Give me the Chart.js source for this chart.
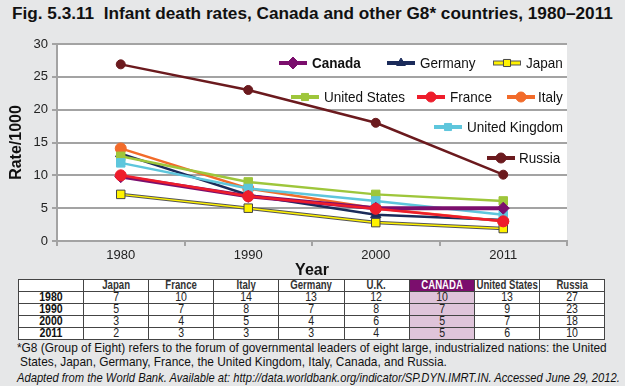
<!DOCTYPE html>
<html>
<head>
<meta charset="utf-8">
<script src="https://cdn.jsdelivr.net/npm/chart.js@4.4.1/dist/chart.umd.min.js"></script>
<style>
  html, body { margin:0; padding:0; }
  body { width:625px; height:386px; background:#e6e7e8; position:relative; overflow:hidden; font-family:"Liberation Sans", Arial, sans-serif; color:#111; }
  #title { position:absolute; left:12px; top:3px; font-weight:bold; font-size:17.2px; white-space:nowrap; }
  #wrap { position:absolute; left:0; top:0; width:625px; height:282px; }
  table { position:absolute; left:18px; top:279px; width:587px; border-collapse:collapse; table-layout:fixed; background:#fff; font-size:12px; }
  td { border:1px solid #444; height:11px; padding:0; text-align:center; line-height:11px; white-space:nowrap; overflow:hidden; color:#222; }
  td span { display:block; width:200%; margin-left:-50%; text-align:center; transform:scaleX(0.88); }
  tr.head td { color:#333; font-weight:bold; }
  tr.head td span { transform:scaleX(0.8); }
  td.rl { font-weight:bold; color:#111; }
  td.ca { background:#dfc4da; }
  tr.head td.cah { background:#7b0e6d; color:#fff; }
  .note { position:absolute; left:17px; font-size:13.5px; white-space:nowrap; transform:scaleX(0.88); transform-origin:left top; color:#111; }
</style>
</head>
<body>
<div id="title">Fig. 5.3.11&nbsp; Infant death rates, Canada and other G8* countries, 1980–2011</div>
<div id="wrap"><canvas id="c" width="625" height="282"></canvas></div>
<table id="tbl"></table>
<div class="note" style="top:340px;">*G8 (Group of Eight) refers to the forum of governmental leaders of eight large, industrialized nations: the United</div>
<div class="note" style="top:354px; left:20px;">States, Japan, Germany, France, the United Kingdom, Italy, Canada, and Russia.</div>
<div class="note" style="top:370px; font-size:13px; font-style:italic; transform:scaleX(0.86);">Adapted from the World Bank. Available at: http://data.worldbank.org/indicator/SP.DYN.IMRT.IN. Accessed June 29, 2012.</div>
<script>
// chart values (rate per 1000)
const years = ['1980', '1990', '2000', '2011'];
const canada = [9.8, 6.8, 5.0, 5.0];
const germany = [13.3, 7.0, 4.0, 3.2];
const japan = [7.1, 5.0, 2.8, 1.9];
const usa = [12.9, 9.0, 7.1, 6.1];
const france = [10.0, 6.8, 4.9, 3.0];
const italy = [14.1, 8.0, 5.0, 3.0];
const uk = [11.9, 8.0, 6.1, 4.0];
const russia = [26.9, 23.0, 18.0, 10.1];
const yTicks = [0, 5, 10, 15, 20, 25, 30];

// table below the chart
const tableCols = ['Japan', 'France', 'Italy', 'Germany', 'U.K.', 'CANADA', 'United States', 'Russia'];
const tableYears = ['1980', '1990', '2000', '2011'];
const tableRows = [
  [7, 10, 14, 13, 12, 10, 13, 27],
  [5, 7, 8, 7, 8, 7, 9, 23],
  [3, 4, 5, 4, 6, 5, 7, 18],
  [2, 3, 3, 3, 4, 5, 6, 10]
];

function ds(label, data, color, style, radius, width, extra) {
  return Object.assign({
    label: label, data: data, borderColor: color, backgroundColor: color,
    pointBackgroundColor: color, pointBorderColor: color, pointBorderWidth: 1,
    pointStyle: style, pointRadius: radius, borderWidth: width, tension: 0
  }, extra || {});
}

// index 0 is drawn on top
const datasets = [
  ds('Russia', russia, '#6b1a1e', 'circle', 4.5, 2.5),
  ds('France', france, '#ee1d2b', 'circle', 5.5, 2.5),
  ds('Canada', canada, '#7b0e6d', 'rectRot', 6, 4),
  ds('United Kingdom', uk, '#5ec6dc', 'rect', 6, 2.5),
  ds('United States', usa, '#9ec63b', 'rect', 6, 2.5),
  ds('Italy', italy, '#f26b2a', 'circle', 5.5, 2.5),
  ds('Germany', germany, '#1b2b5a', 'triangle', 6, 2.5),
  ds('Japan', japan, '#fff200', 'rect', 6, 1.5, { pointBorderColor: '#444', pointBorderWidth: 1 }),
  ds('', japan, '#555555', 'circle', 0, 3.5)
];

// legend layout: dataset label, marker x, row y, text x, bold
const legendPos = [
  ['Canada', 293, 63, 312, true],
  ['Germany', 401, 63, 420, false],
  ['Japan', 507, 63, 526, false],
  ['United States', 305, 97, 324, false],
  ['France', 431, 97, 450, false],
  ['Italy', 521, 97, 538, false],
  ['United Kingdom', 448, 127, 467, false],
  ['Russia', 501, 158, 519, false]
];

const legendPlugin = {
  id: 'fixedLegend',
  afterDatasetsDraw(chart) {
    const ctx = chart.ctx;
    ctx.save();
    legendPos.forEach(p => {
      const d = chart.data.datasets.find(x => x.label === p[0]);
      const isJp = d.label === 'Japan';
      ctx.strokeStyle = isJp ? '#555' : d.borderColor;
      ctx.lineWidth = isJp ? 5 : 4;
      ctx.beginPath(); ctx.moveTo(p[1] - 14, p[2]); ctx.lineTo(p[1] + 14, p[2]); ctx.stroke();
      if (isJp) {
        ctx.strokeStyle = d.borderColor; ctx.lineWidth = 3;
        ctx.beginPath(); ctx.moveTo(p[1] - 13, p[2]); ctx.lineTo(p[1] + 13, p[2]); ctx.stroke();
      }
      ctx.fillStyle = d.pointBackgroundColor;
      ctx.strokeStyle = d.pointBorderColor;
      ctx.lineWidth = 1;
      const r = d.label === 'Canada' ? 6 : 5;
      Chart.helpers.drawPoint(ctx, { pointStyle: d.pointStyle, radius: r, rotation: 0, borderWidth: 1 }, p[1], p[2]);
      ctx.save();
      ctx.translate(p[3], p[2]);
      ctx.scale(0.9, 1);
      ctx.fillStyle = '#111';
      ctx.font = (p[4] ? 'bold ' : '') + '15px "Liberation Sans", Arial, sans-serif';
      ctx.textBaseline = 'middle';
      ctx.fillText(p[0], 0, 1);
      ctx.restore();
    });
    ctx.restore();
  }
};

const plotBg = {
  id: 'plotBg',
  beforeDraw(chart) {
    const a = chart.chartArea, ctx = chart.ctx;
    ctx.save(); ctx.fillStyle = '#fff';
    ctx.fillRect(a.left, a.top, a.right - a.left, a.bottom - a.top);
    ctx.restore();
  }
};

new Chart(document.getElementById('c').getContext('2d'), {
  type: 'line',
  data: { labels: years, datasets: datasets },
  plugins: [plotBg, legendPlugin],
  options: {
    responsive: false, animation: false, devicePixelRatio: 1,
    layout: { padding: { left: 0, right: 58, top: 44, bottom: 0 } },
    plugins: { legend: { display: false }, tooltip: { enabled: false } },
    scales: {
      x: {
        type: 'category', offset: true,
        afterFit: s => { s.height = 41; },
        grid: { offset: true, drawOnChartArea: false, tickLength: 5, color: '#a3a3a3', lineWidth: 2 },
        border: { color: '#a3a3a3', width: 2 },
        ticks: { color: '#222', padding: 2, font: { size: 13, family: '"Liberation Sans", Arial' } },
        title: { display: true, text: 'Year', color: '#111', padding: { top: 0, bottom: 2 }, font: { size: 16, weight: 'bold', family: '"Liberation Sans", Arial' } }
      },
      y: {
        min: 0, max: 30,
        afterFit: s => { s.width = 57; },
        afterBuildTicks: s => { s.ticks = yTicks.map(v => ({ value: v })); },
        grid: { color: '#a3a3a3', lineWidth: 2, tickLength: 5 },
        border: { color: '#a3a3a3', width: 2 },
        ticks: { color: '#222', padding: 4, font: { size: 13, family: '"Liberation Sans", Arial' } },
        title: { display: true, text: 'Rate/1000', color: '#111', padding: { top: 7, bottom: 0 }, font: { size: 16, weight: 'bold', family: '"Liberation Sans", Arial' } }
      }
    }
  }
});

// build table
const tbl = document.getElementById('tbl');
let html = '<colgroup><col style="width:65px">' + tableCols.map(() => '<col>').join('') + '</colgroup>';
html += '<tr class="head"><td></td>' + tableCols.map(c => '<td' + (c === 'CANADA' ? ' class="cah"' : '') + '><span>' + c + '</span></td>').join('') + '</tr>';
tableRows.forEach((r, i) => {
  html += '<tr><td class="rl"><span>' + tableYears[i] + '</span></td>' + r.map((v, j) => '<td' + (tableCols[j] === 'CANADA' ? ' class="ca"' : '') + '><span>' + v + '</span></td>').join('') + '</tr>';
});
tbl.innerHTML = html;
</script>
</body>
</html>
